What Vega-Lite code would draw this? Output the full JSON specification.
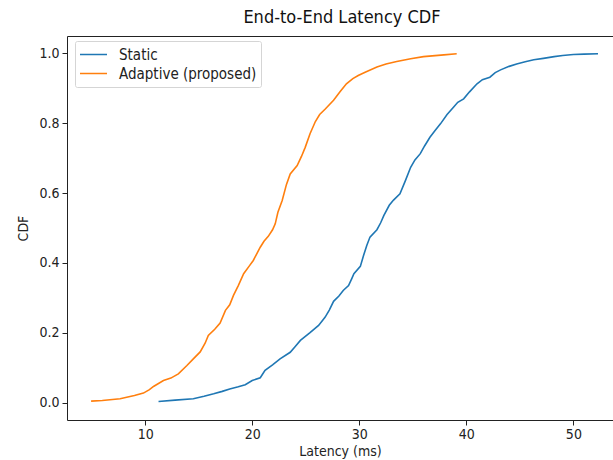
{
  "$schema": "https://vega.github.io/schema/vega-lite/v6.json",
  "width": 546,
  "height": 384,
  "autosize": {"type": "none"},
  "padding": {"left": 67, "top": 36, "right": 0, "bottom": 40},
  "background": "white",
  "title": {"text": "End-to-End Latency CDF", "fontSize": 18, "font": "DejaVu Sans Condensed, DejaVu Sans", "fontWeight": "normal", "color": "#111", "offset": 9, "dx": 2},
  "config": {"view": {"stroke": null}, "font": "DejaVu Sans Condensed, DejaVu Sans"},
  "data": {"values": [
    {"series": "Adaptive (proposed)", "latency": 4.95, "cdf": 0.004},
    {"series": "Adaptive (proposed)", "latency": 6.0, "cdf": 0.006},
    {"series": "Adaptive (proposed)", "latency": 7.66, "cdf": 0.011},
    {"series": "Adaptive (proposed)", "latency": 9.0, "cdf": 0.02},
    {"series": "Adaptive (proposed)", "latency": 9.84, "cdf": 0.027},
    {"series": "Adaptive (proposed)", "latency": 10.4, "cdf": 0.037},
    {"series": "Adaptive (proposed)", "latency": 10.78, "cdf": 0.046},
    {"series": "Adaptive (proposed)", "latency": 11.71, "cdf": 0.063},
    {"series": "Adaptive (proposed)", "latency": 12.4, "cdf": 0.07},
    {"series": "Adaptive (proposed)", "latency": 13.1, "cdf": 0.082},
    {"series": "Adaptive (proposed)", "latency": 13.9, "cdf": 0.106},
    {"series": "Adaptive (proposed)", "latency": 14.5, "cdf": 0.125},
    {"series": "Adaptive (proposed)", "latency": 15.14, "cdf": 0.145},
    {"series": "Adaptive (proposed)", "latency": 15.6, "cdf": 0.17},
    {"series": "Adaptive (proposed)", "latency": 15.9, "cdf": 0.192},
    {"series": "Adaptive (proposed)", "latency": 16.5, "cdf": 0.21},
    {"series": "Adaptive (proposed)", "latency": 17.0, "cdf": 0.228},
    {"series": "Adaptive (proposed)", "latency": 17.5, "cdf": 0.264},
    {"series": "Adaptive (proposed)", "latency": 17.9, "cdf": 0.28},
    {"series": "Adaptive (proposed)", "latency": 18.25, "cdf": 0.307},
    {"series": "Adaptive (proposed)", "latency": 18.7, "cdf": 0.335},
    {"series": "Adaptive (proposed)", "latency": 19.2, "cdf": 0.369},
    {"series": "Adaptive (proposed)", "latency": 19.7, "cdf": 0.39},
    {"series": "Adaptive (proposed)", "latency": 20.1, "cdf": 0.407},
    {"series": "Adaptive (proposed)", "latency": 20.75, "cdf": 0.445},
    {"series": "Adaptive (proposed)", "latency": 21.1, "cdf": 0.462},
    {"series": "Adaptive (proposed)", "latency": 21.5, "cdf": 0.476},
    {"series": "Adaptive (proposed)", "latency": 21.9, "cdf": 0.495},
    {"series": "Adaptive (proposed)", "latency": 22.15, "cdf": 0.512},
    {"series": "Adaptive (proposed)", "latency": 22.4, "cdf": 0.545},
    {"series": "Adaptive (proposed)", "latency": 22.8, "cdf": 0.579},
    {"series": "Adaptive (proposed)", "latency": 23.2, "cdf": 0.625},
    {"series": "Adaptive (proposed)", "latency": 23.55, "cdf": 0.655},
    {"series": "Adaptive (proposed)", "latency": 24.2, "cdf": 0.679},
    {"series": "Adaptive (proposed)", "latency": 24.6, "cdf": 0.705},
    {"series": "Adaptive (proposed)", "latency": 24.95, "cdf": 0.731},
    {"series": "Adaptive (proposed)", "latency": 25.4, "cdf": 0.77},
    {"series": "Adaptive (proposed)", "latency": 25.9, "cdf": 0.805},
    {"series": "Adaptive (proposed)", "latency": 26.3, "cdf": 0.825},
    {"series": "Adaptive (proposed)", "latency": 26.8, "cdf": 0.84},
    {"series": "Adaptive (proposed)", "latency": 27.6, "cdf": 0.866},
    {"series": "Adaptive (proposed)", "latency": 28.2, "cdf": 0.89},
    {"series": "Adaptive (proposed)", "latency": 28.8, "cdf": 0.913},
    {"series": "Adaptive (proposed)", "latency": 29.4, "cdf": 0.928},
    {"series": "Adaptive (proposed)", "latency": 29.9, "cdf": 0.937},
    {"series": "Adaptive (proposed)", "latency": 30.6, "cdf": 0.947},
    {"series": "Adaptive (proposed)", "latency": 31.65, "cdf": 0.961},
    {"series": "Adaptive (proposed)", "latency": 32.5, "cdf": 0.97},
    {"series": "Adaptive (proposed)", "latency": 33.5, "cdf": 0.977},
    {"series": "Adaptive (proposed)", "latency": 34.8, "cdf": 0.985},
    {"series": "Adaptive (proposed)", "latency": 36.0, "cdf": 0.991},
    {"series": "Adaptive (proposed)", "latency": 37.9, "cdf": 0.996},
    {"series": "Adaptive (proposed)", "latency": 39.1, "cdf": 0.999},
    {"series": "Static", "latency": 11.25, "cdf": 0.003},
    {"series": "Static", "latency": 12.8, "cdf": 0.007},
    {"series": "Static", "latency": 14.5, "cdf": 0.011},
    {"series": "Static", "latency": 15.5, "cdf": 0.018},
    {"series": "Static", "latency": 16.4, "cdf": 0.025},
    {"series": "Static", "latency": 17.2, "cdf": 0.032},
    {"series": "Static", "latency": 17.9, "cdf": 0.039},
    {"series": "Static", "latency": 18.7, "cdf": 0.045},
    {"series": "Static", "latency": 19.35, "cdf": 0.051},
    {"series": "Static", "latency": 20.0, "cdf": 0.063},
    {"series": "Static", "latency": 20.75, "cdf": 0.071},
    {"series": "Static", "latency": 21.2, "cdf": 0.092},
    {"series": "Static", "latency": 21.9, "cdf": 0.108},
    {"series": "Static", "latency": 22.6, "cdf": 0.125},
    {"series": "Static", "latency": 23.55, "cdf": 0.144},
    {"series": "Static", "latency": 24.0, "cdf": 0.16},
    {"series": "Static", "latency": 24.5, "cdf": 0.178},
    {"series": "Static", "latency": 25.4, "cdf": 0.2},
    {"series": "Static", "latency": 26.2, "cdf": 0.221},
    {"series": "Static", "latency": 26.8, "cdf": 0.244},
    {"series": "Static", "latency": 27.2, "cdf": 0.265},
    {"series": "Static", "latency": 27.6, "cdf": 0.29},
    {"series": "Static", "latency": 28.1, "cdf": 0.305},
    {"series": "Static", "latency": 28.5, "cdf": 0.321},
    {"series": "Static", "latency": 29.0, "cdf": 0.335},
    {"series": "Static", "latency": 29.3, "cdf": 0.355},
    {"series": "Static", "latency": 29.5, "cdf": 0.369},
    {"series": "Static", "latency": 30.1, "cdf": 0.39},
    {"series": "Static", "latency": 30.4, "cdf": 0.421},
    {"series": "Static", "latency": 30.7, "cdf": 0.45},
    {"series": "Static", "latency": 31.0, "cdf": 0.474},
    {"series": "Static", "latency": 31.65, "cdf": 0.495},
    {"series": "Static", "latency": 32.0, "cdf": 0.515},
    {"series": "Static", "latency": 32.3, "cdf": 0.536},
    {"series": "Static", "latency": 32.8, "cdf": 0.565},
    {"series": "Static", "latency": 33.2, "cdf": 0.58},
    {"series": "Static", "latency": 33.8, "cdf": 0.598},
    {"series": "Static", "latency": 34.3, "cdf": 0.635},
    {"series": "Static", "latency": 34.8, "cdf": 0.674},
    {"series": "Static", "latency": 35.2, "cdf": 0.695},
    {"series": "Static", "latency": 35.7, "cdf": 0.713},
    {"series": "Static", "latency": 36.1, "cdf": 0.735},
    {"series": "Static", "latency": 36.6, "cdf": 0.76},
    {"series": "Static", "latency": 37.1, "cdf": 0.78},
    {"series": "Static", "latency": 37.6, "cdf": 0.799},
    {"series": "Static", "latency": 38.2, "cdf": 0.825},
    {"series": "Static", "latency": 38.8, "cdf": 0.846},
    {"series": "Static", "latency": 39.2, "cdf": 0.86},
    {"series": "Static", "latency": 39.75, "cdf": 0.87},
    {"series": "Static", "latency": 40.3, "cdf": 0.89},
    {"series": "Static", "latency": 41.0, "cdf": 0.913},
    {"series": "Static", "latency": 41.5, "cdf": 0.925},
    {"series": "Static", "latency": 42.2, "cdf": 0.932},
    {"series": "Static", "latency": 42.7, "cdf": 0.945},
    {"series": "Static", "latency": 43.2, "cdf": 0.953},
    {"series": "Static", "latency": 44.0, "cdf": 0.963},
    {"series": "Static", "latency": 44.7, "cdf": 0.97},
    {"series": "Static", "latency": 45.5, "cdf": 0.976},
    {"series": "Static", "latency": 46.3, "cdf": 0.982},
    {"series": "Static", "latency": 47.2, "cdf": 0.986},
    {"series": "Static", "latency": 48.2, "cdf": 0.991},
    {"series": "Static", "latency": 49.0, "cdf": 0.994},
    {"series": "Static", "latency": 50.0, "cdf": 0.997},
    {"series": "Static", "latency": 51.0, "cdf": 0.998},
    {"series": "Static", "latency": 52.3, "cdf": 0.999}
  ]},
  "layer": [
    {
      "mark": {"type": "line", "strokeWidth": 1.6, "clip": true},
      "encoding": {
        "x": {"field": "latency", "type": "quantitative",
          "scale": {"domain": [2.7, 53.7], "nice": false, "zero": false},
          "axis": {"values": [10, 20, 30, 40, 50], "title": "Latency (ms)", "grid": false,
            "tickSize": 5, "tickColor": "#222", "domainColor": "#222", "labelColor": "#222",
            "labelFontSize": 14, "labelPadding": 2, "titleFontSize": 14, "titleFontWeight": "normal",
            "titleColor": "#222", "titlePadding": 3, "labelFlush": false}},
        "y": {"field": "cdf", "type": "quantitative",
          "scale": {"domain": [-0.05, 1.05], "nice": false, "zero": false},
          "axis": {"values": [0, 0.2, 0.4, 0.6, 0.8, 1.0], "format": ".1f", "title": "CDF", "grid": false,
            "tickSize": 5, "tickColor": "#222", "domainColor": "#222", "labelColor": "#222",
            "labelFontSize": 14, "labelPadding": 3, "titleFontSize": 14, "titleFontWeight": "normal",
            "titleColor": "#222", "titlePadding": 8}},
        "color": {"field": "series", "type": "nominal",
          "scale": {"domain": ["Static", "Adaptive (proposed)"], "range": ["#1f77b4", "#ff7f0e"]},
          "legend": {"title": null, "orient": "none", "legendX": 8, "legendY": 5,
            "symbolType": "stroke", "symbolSize": 729, "symbolStrokeWidth": 1.5, "clipHeight": 19,
            "fillColor": "white", "strokeColor": "#d5d5d5", "cornerRadius": 2, "padding": 4,
            "labelFontSize": 15, "labelColor": "#222", "labelOffset": 11, "rowPadding": 0}}
      }
    },
    {
      "mark": {"type": "rule", "opacity": 0},
      "encoding": {
        "x": {"field": "latency", "type": "quantitative",
          "axis": {"orient": "top", "labels": false, "ticks": false, "title": null, "grid": false,
            "domain": true, "domainColor": "#222"}}
      }
    }
  ],
  "resolve": {"axis": {"x": "independent"}}
}
